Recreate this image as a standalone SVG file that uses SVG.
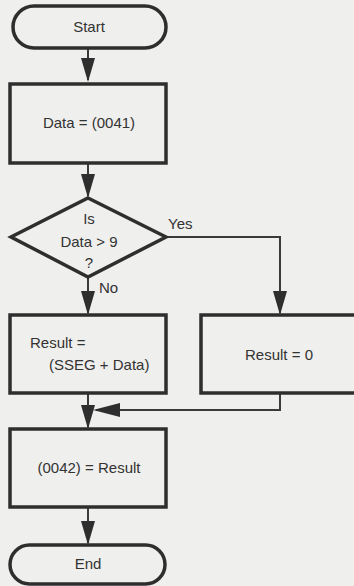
<svg xmlns="http://www.w3.org/2000/svg" width="354" height="586" viewBox="0 0 354 586">
<defs>
<style>
.box{fill:none;stroke:#2e2e2e;stroke-width:3.5}
.ln{fill:none;stroke:#3a3a3a;stroke-width:2}
.ah{fill:#2e2e2e}
text{font-family:"Liberation Sans",Arial,sans-serif;font-size:15px;fill:#333}
.c{text-anchor:middle}
</style>
</defs>
<rect width="354" height="586" fill="#efefed"/>
<g id="connectors">
<line class="ln" x1="88" y1="48" x2="88" y2="80"/>
<polygon class="ah" points="81,58 95,58 88,82"/>
<line class="ln" x1="88" y1="163" x2="88" y2="196"/>
<polygon class="ah" points="81,174 95,174 88,198"/>
<line class="ln" x1="88" y1="277" x2="88" y2="313"/>
<polygon class="ah" points="81,291 95,291 88,315"/>
<polyline class="ln" points="166,237 280,237 280,313"/>
<polygon class="ah" points="273,291 287,291 280,315"/>
<line class="ln" x1="88" y1="393" x2="88" y2="427"/>
<polygon class="ah" points="81,405 95,405 88,429"/>
<polyline class="ln" points="280,393 280,410 96,410"/>
<polygon class="ah" points="120,403 120,417 93,410"/>
<line class="ln" x1="88" y1="507" x2="88" y2="543"/>
<polygon class="ah" points="81,521 95,521 88,545"/>
<text x="168" y="229">Yes</text>
<text x="99" y="293">No</text>
</g>
<g id="start">
<rect class="box" x="13" y="6" width="153" height="42" rx="21"/>
<text class="c" x="89" y="32">Start</text>
</g>
<g id="data">
<rect class="box" x="10" y="84" width="156" height="79"/>
<text class="c" x="89" y="128">Data = (0041)</text>
</g>
<g id="decision">
<polygon class="box" points="88,198 166,237 88,277 11,237"/>
<text class="c" x="89" y="224">Is</text>
<text class="c" x="89" y="247">Data &gt; 9</text>
<text class="c" x="89" y="268">?</text>
</g>
<g id="result">
<rect class="box" x="10" y="315" width="156" height="78"/>
<text x="30" y="348">Result =</text>
<text x="49" y="370">(SSEG + Data)</text>
</g>
<g id="result0">
<rect class="box" x="201" y="315" width="170" height="78"/>
<text class="c" x="279" y="360">Result = 0</text>
</g>
<g id="store">
<rect class="box" x="10" y="429" width="156" height="78"/>
<text class="c" x="89" y="473">(0042) = Result</text>
</g>
<g id="end">
<rect class="box" x="10" y="545" width="155" height="39" rx="19.5"/>
<text class="c" x="88" y="569">End</text>
</g>
</svg>
